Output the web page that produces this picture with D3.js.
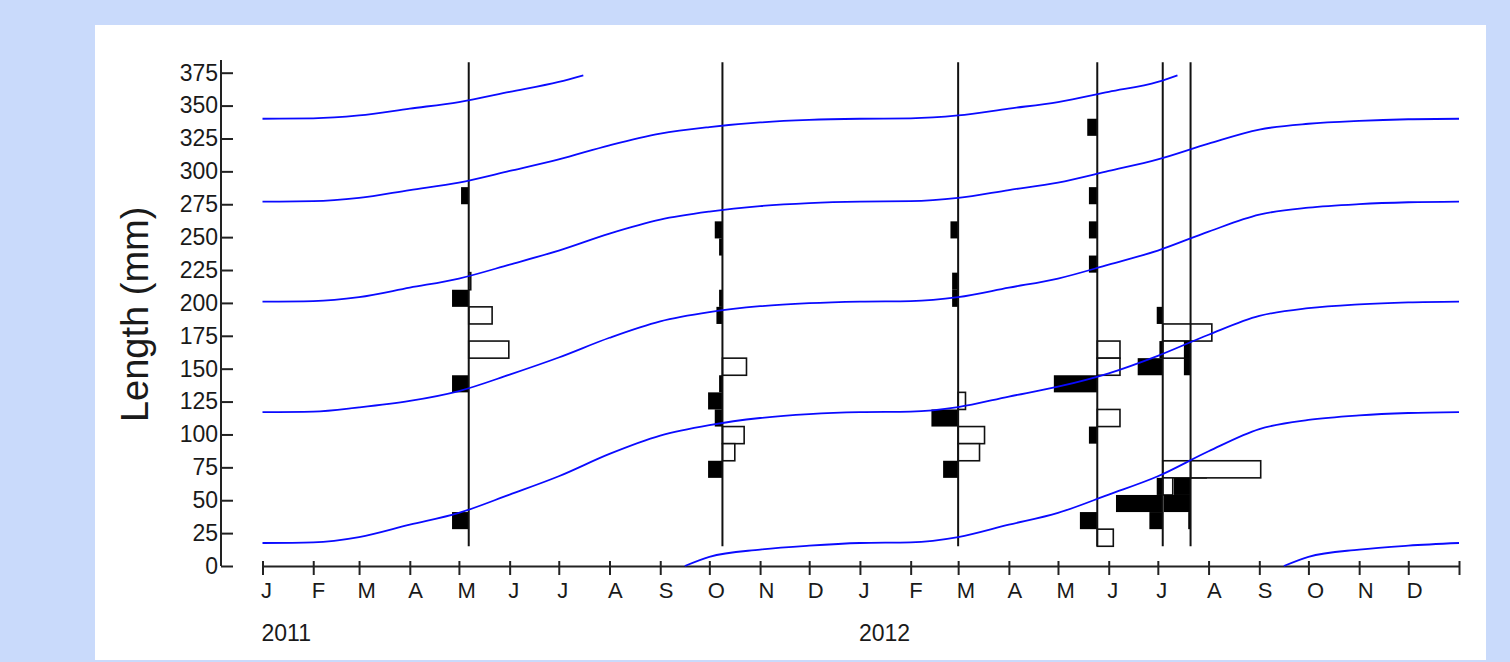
<!DOCTYPE html>
<html>
<head>
<meta charset="utf-8">
<script src="https://cdn.jsdelivr.net/npm/d3@7"></script>
<style>
  html, body { margin: 0; padding: 0; background: #c9dafb; }
  svg { display: block; }
  text { font-family: "Liberation Sans", Arial, sans-serif; fill: #1a1a1a; }
</style>
</head>
<body>
<svg id="chart" width="1510" height="662"></svg>
<script>
const monthLetters = ["J", "F", "M", "A", "M", "J", "J", "A", "S", "O", "N", "D"];
const yearLabels = ["2011", "2012"];
const lengthTicks = [0, 25, 50, 75, 100, 125, 150, 175, 200, 225, 250, 275, 300, 325, 350, 375];

// growth curves (date, length mm)
const cohortA = [
  ["2011-01-01", 340], ["2011-02-01", 340.3], ["2011-03-01", 342.5], ["2011-04-01", 347.7],
  ["2011-05-01", 352.7], ["2011-06-01", 360.4], ["2011-07-01", 368], ["2011-07-16", 373],
];
const cohortB = [
  ["2011-01-01", 277], ["2011-02-01", 277.3], ["2011-03-01", 279.8], ["2011-04-01", 285.8],
  ["2011-05-01", 291.5], ["2011-06-01", 300.3], ["2011-07-01", 309.1], ["2011-08-01", 319.8],
  ["2011-09-01", 328.7], ["2011-10-01", 333.7], ["2011-11-01", 337.2], ["2011-12-01", 339.1],
  ["2012-01-01", 340], ["2012-02-01", 340.3], ["2012-03-01", 342.5], ["2012-04-01", 347.7],
  ["2012-05-01", 352.7], ["2012-06-01", 360.4], ["2012-07-01", 368], ["2012-07-13", 373],
];
const cohortC = [
  ["2011-01-01", 201], ["2011-02-01", 201.4], ["2011-03-01", 204.4], ["2011-04-01", 211.6],
  ["2011-05-01", 218.5], ["2011-06-01", 229.1], ["2011-07-01", 239.8], ["2011-08-01", 252.7],
  ["2011-09-01", 263.3], ["2011-10-01", 269.4], ["2011-11-01", 273.6], ["2011-12-01", 275.9],
  ["2012-01-01", 277], ["2012-02-01", 277.3], ["2012-03-01", 279.8], ["2012-04-01", 285.8],
  ["2012-05-01", 291.5], ["2012-06-01", 300.3], ["2012-07-01", 309.1], ["2012-08-01", 321.1],
  ["2012-09-01", 331.8], ["2012-10-01", 336.2], ["2012-11-01", 338.4], ["2012-12-01", 339.6],
  ["2013-01-01", 340],
];
const cohortD = [
  ["2011-01-01", 117], ["2011-02-01", 117.4], ["2011-03-01", 120.6], ["2011-04-01", 125.5],
  ["2011-05-01", 133], ["2011-06-01", 145.5], ["2011-07-01", 158.5], ["2011-08-01", 173.5],
  ["2011-09-01", 186], ["2011-10-01", 193], ["2011-11-01", 197.5], ["2011-12-01", 199.8],
  ["2012-01-01", 201], ["2012-02-01", 201.4], ["2012-03-01", 204.4], ["2012-04-01", 211.6],
  ["2012-05-01", 218.5], ["2012-06-01", 229.1], ["2012-07-01", 239.8], ["2012-08-01", 254.2],
  ["2012-09-01", 267.1], ["2012-10-01", 272.4], ["2012-11-01", 275.1], ["2012-12-01", 276.5],
  ["2013-01-01", 277],
];
const cohortE = [
  ["2011-01-01", 17.5], ["2011-02-01", 18], ["2011-03-01", 22], ["2011-04-01", 31.4],
  ["2011-05-01", 40.4], ["2011-06-01", 54.3], ["2011-07-01", 68.2], ["2011-08-01", 85.2],
  ["2011-09-01", 99.1], ["2011-10-01", 107.1], ["2011-11-01", 112.5], ["2011-12-01", 115.5],
  ["2012-01-01", 117], ["2012-02-01", 117.4], ["2012-03-01", 120.8], ["2012-04-01", 128.8],
  ["2012-05-01", 136.3], ["2012-06-01", 146.5], ["2012-07-01", 159.8], ["2012-08-01", 175.8],
  ["2012-09-01", 190.1], ["2012-10-01", 196], ["2012-11-01", 198.9], ["2012-12-01", 200.4],
  ["2013-01-01", 201],
];
const cohortF = [
  ["2011-09-16", 0], ["2011-10-01", 7], ["2011-11-01", 12.5], ["2011-12-01", 15.5],
  ["2012-01-01", 17.5], ["2012-02-01", 18], ["2012-03-01", 22], ["2012-04-01", 31.4],
  ["2012-05-01", 40.4], ["2012-06-01", 54.3], ["2012-07-01", 68.2], ["2012-08-01", 87.2],
  ["2012-09-01", 104.1], ["2012-10-01", 111], ["2012-11-01", 114.5], ["2012-12-01", 116.3],
  ["2013-01-01", 117],
];
const cohortG = [
  ["2012-09-16", 0], ["2012-10-01", 7], ["2012-11-01", 12.5], ["2012-12-01", 15.5],
  ["2013-01-01", 17.5],
];

// sampling dates and length-frequency bars [bin lower edge mm, % of sample]
const sampleDates = ["2011-05-07", "2011-10-09", "2012-03-01", "2012-05-25", "2012-07-04", "2012-07-21"];
const binWidth = 13;
const blackBars = [
  [[275, 4.6], [197, 10], [132, 10], [28, 10]],
  [[249, 4.6], [236, 2], [197, 2], [184, 3.6], [132, 2], [119, 8.6], [106, 4.6], [67, 8.6]],
  [[249, 4.6], [210, 3.6], [197, 3.6], [106, 16], [67, 9]],
  [[327, 6], [275, 5], [249, 5], [223, 5], [132, 26], [93, 5], [28, 10.4]],
  [[184, 3.6], [158, 2], [145, 15], [54, 3.6], [41, 28], [28, 8]],
  [[158, 4], [145, 4], [54, 10], [41, 16], [28, 1.4]],
];
const whiteBars = [
  [[210, 1.2], [184, 14], [158, 24]],
  [[145, 14.4], [93, 13], [80, 7.4]],
  [[119, 4.4], [93, 15.8], [80, 12.8]],
  [[158, 13.6], [145, 13.6], [106, 13.6], [15, 9.6]],
  [[171, 29.4], [158, 16], [67, 26], [54, 6]],
  [[67, 42]],
];

const parse = d3.utcParse("%Y-%m-%d");
const svg = d3.select("#chart");

svg.append("rect")
  .attr("x", 95).attr("y", 25)
  .attr("width", 1391).attr("height", 635)
  .attr("fill", "#fff");

const x = d3.scaleUtc()
  .domain([parse("2011-01-01"), parse("2013-01-01")])
  .range([262.5, 1459]);
const y = d3.scaleLinear().domain([0, 375]).range([566, 72.7]);
const w = d3.scaleLinear().domain([0, 10]).range([0, 16.7]);

// y axis
const yAxis = svg.append("g")
  .attr("transform", "translate(221,0)")
  .call(d3.axisLeft(y).tickValues(lengthTicks).tickSizeInner(-12).tickSizeOuter(0).tickPadding(3));
yAxis.select(".domain").remove();
yAxis.append("line")
  .attr("y1", 60).attr("y2", y(0))
  .attr("stroke", "#222").attr("stroke-width", 2);
yAxis.selectAll(".tick line").attr("stroke", "#222").attr("stroke-width", 2);
yAxis.selectAll(".tick text")
  .attr("font-size", 23)
  .style("font-family", '"Liberation Sans", Arial, sans-serif')
  .attr("fill", "#1a1a1a");

// x axis
const xAxis = svg.append("g")
  .attr("transform", `translate(0,${y(0)})`)
  .call(d3.axisBottom(x)
    .ticks(d3.utcMonth.every(1))
    .tickSizeOuter(0)
    .tickFormat((d) => (d < parse("2013-01-01") ? monthLetters[d.getUTCMonth()] : "")));
xAxis.select(".domain").attr("stroke", "#222").attr("stroke-width", 2);
xAxis.selectAll(".tick line")
  .attr("y1", -5).attr("y2", 9)
  .attr("stroke", "#222").attr("stroke-width", 2);
xAxis.selectAll(".tick text")
  .attr("y", 32).attr("dy", 0).attr("x", -2)
  .attr("text-anchor", "start")
  .attr("font-size", 22)
  .style("font-family", '"Liberation Sans", Arial, sans-serif')
  .attr("fill", "#1a1a1a");

svg.selectAll(".year")
  .data(yearLabels)
  .enter()
  .append("text")
  .attr("class", "year")
  .attr("x", (d) => x(parse(d + "-01-01")) - 1)
  .attr("y", 641)
  .attr("font-size", 23)
  .text((d) => d);

svg.append("text")
  .attr("transform", `translate(148,${(y(0) + y(375)) / 2 - 5}) rotate(-90)`)
  .attr("text-anchor", "middle")
  .attr("font-size", 38)
  .attr("fill", "#000")
  .text("Length (mm)");

// length-frequency bars
const samples = sampleDates.map((d, i) => ({ x: x(parse(d)), black: blackBars[i], white: whiteBars[i] }));

samples.forEach((s) => {
  svg.append("g")
    .selectAll("rect")
    .data(s.white)
    .enter()
    .append("rect")
    .attr("x", s.x)
    .attr("y", (d) => y(d[0] + binWidth))
    .attr("width", (d) => w(d[1]))
    .attr("height", (d) => y(d[0]) - y(d[0] + binWidth))
    .attr("fill", "#fff")
    .attr("stroke", "#111")
    .attr("stroke-width", 1.6);
});

samples.forEach((s) => {
  svg.append("g")
    .selectAll("rect")
    .data(s.black)
    .enter()
    .append("rect")
    .attr("x", (d) => s.x - w(d[1]))
    .attr("y", (d) => y(d[0] + binWidth))
    .attr("width", (d) => w(d[1]))
    .attr("height", (d) => y(d[0]) - y(d[0] + binWidth))
    .attr("fill", "#000");
});

svg.selectAll(".sample")
  .data(samples)
  .enter()
  .append("line")
  .attr("class", "sample")
  .attr("x1", (d) => d.x).attr("x2", (d) => d.x)
  .attr("y1", y(383)).attr("y2", y(15))
  .attr("stroke", "#111")
  .attr("stroke-width", 2);

// growth curves
const line = d3.line()
  .x((d) => x(parse(d[0])))
  .y((d) => y(d[1]))
  .curve(d3.curveMonotoneX);

svg.selectAll(".growth")
  .data([cohortA, cohortB, cohortC, cohortD, cohortE, cohortF, cohortG])
  .enter()
  .append("path")
  .attr("class", "growth")
  .attr("d", line)
  .attr("fill", "none")
  .attr("stroke", "#0a0aff")
  .attr("stroke-width", 1.8);
</script>
</body>
</html>
